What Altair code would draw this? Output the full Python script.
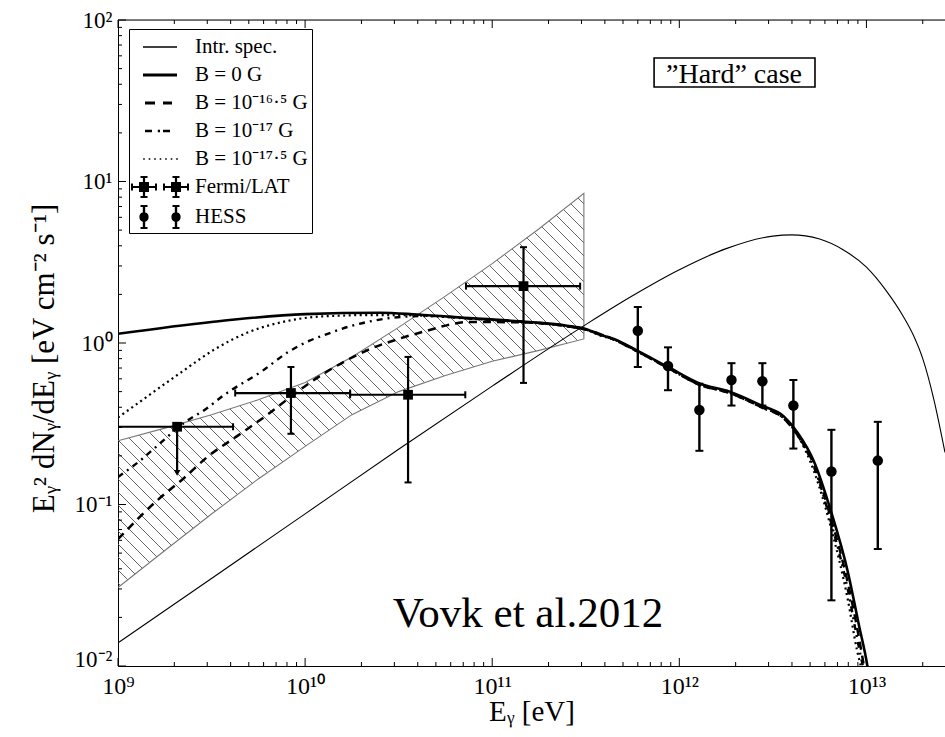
import altair as alt
import numpy as np
import pandas as pd

# ---------------- layout ----------------
W, H = 827, 646
X_DOMAIN = [1e9, 2.63e13]
Y_DOMAIN = [1e-2, 1e2]
FONT = "Liberation Serif"

# ---------------- data ----------------
# Intrinsic spectrum (thin line)
intr_E = [1e9, 3.16e9, 1e10, 3.16e10, 1e11, 3.16e11, 5.62e11, 1e12, 1.78e12, 3.16e12,
          3.98e12, 5.62e12, 7.5e12, 1e13, 1.26e13, 1.58e13, 1.78e13, 2e13, 2.29e13, 2.63e13]
intr_F = [0.0139, 0.0348, 0.0875, 0.220, 0.541, 1.30, 1.96, 2.84, 3.84, 4.59,
          4.67, 4.40, 3.78, 2.95, 2.15, 1.45, 1.12, 0.80, 0.45, 0.21]

# B = 0 G (thick solid)
b0_E = [1e9, 3.16e9, 1e10, 2.51e10, 3.98e10, 7.94e10, 1.585e11, 2.51e11, 3.16e11, 3.8e11,
        4.47e11, 6.03e11, 8.71e11, 1.29e12, 1.86e12, 2.75e12, 3.63e12, 4.27e12, 5.25e12,
        6.46e12, 7.94e12, 9.12e12, 1.012e13, 1.05e13]
b0_F = [1.14, 1.35, 1.51, 1.54, 1.50, 1.42, 1.35, 1.28, 1.22, 1.12,
        1.06, 0.89, 0.71, 0.56, 0.50, 0.41, 0.35, 0.28, 0.184,
        0.091, 0.0386, 0.0179, 0.0100, 0.0075]

# B = 10^-16.5 G (dashed)
b165_E = [1e9, 1.62e9, 2.24e9, 3.02e9, 4.37e9, 6.17e9, 8.51e9, 1.02e10, 1.41e10, 2.14e10,
          3.24e10, 4.47e10, 5.75e10, 7.41e10, 1.55e11, 2.51e11, 3.16e11, 4.47e11, 6.03e11,
          8.71e11, 1.29e12, 1.86e12, 2.75e12, 3.63e12, 4.27e12, 5.25e12, 6.46e12, 7.94e12,
          9.12e12, 9.77e12]
b165_F = [0.061, 0.106, 0.145, 0.198, 0.267, 0.354, 0.471, 0.55, 0.70, 0.90,
          1.07, 1.19, 1.29, 1.35, 1.34, 1.27, 1.21, 1.05, 0.88,
          0.70, 0.55, 0.49, 0.40, 0.34, 0.27, 0.175, 0.082, 0.033,
          0.015, 0.0095]

# B = 10^-17 G (dash-dot)
b17_E = [1e9, 1.35e9, 1.62e9, 2.34e9, 2.95e9, 3.63e9, 5.89e9, 8.13e9, 1.05e10, 1.32e10,
         1.74e10, 2.29e10, 3.24e10, 4.68e10, 7.94e10, 1.585e11, 2.51e11, 3.16e11, 4.47e11,
         6.03e11, 8.71e11, 1.29e12, 1.86e12, 2.75e12, 3.63e12, 4.27e12, 5.25e12, 6.46e12,
         7.94e12, 9.12e12, 9.66e12]
b17_F = [0.148, 0.192, 0.231, 0.33, 0.39, 0.47, 0.67, 0.88, 1.03, 1.14,
         1.27, 1.37, 1.45, 1.47, 1.41, 1.34, 1.27, 1.21, 1.05,
         0.88, 0.70, 0.55, 0.49, 0.40, 0.34, 0.27, 0.17, 0.078,
         0.030, 0.013, 0.0095]

# B = 10^-17.5 G (dotted)
b175_E = [1e9, 1.45e9, 2.19e9, 3.31e9, 5.01e9, 7.59e9, 1.12e10, 1.41e10, 2.14e10, 3.16e10,
          3.98e10, 7.94e10, 1.585e11, 2.51e11, 3.16e11, 3.8e11, 4.47e11, 6.03e11, 8.71e11,
          1.29e12, 1.86e12, 2.75e12, 3.63e12, 4.27e12, 5.25e12, 6.46e12, 7.94e12, 8.91e12,
          9.44e12]
b175_F = [0.345, 0.471, 0.662, 0.918, 1.17, 1.35, 1.45, 1.47, 1.49, 1.49,
          1.48, 1.41, 1.34, 1.27, 1.21, 1.11, 1.05, 0.88, 0.70,
          0.55, 0.49, 0.40, 0.34, 0.27, 0.16, 0.072, 0.026, 0.0125,
          0.0095]

# Fermi/LAT butterfly (hatched band)
bf_E = [1e9, 1.78e9, 3.16e9, 5.62e9, 1e10, 1.78e10, 3.16e10, 5.62e10, 1e11, 1.78e11, 3.09e11]
bf_hi = [0.248, 0.297, 0.360, 0.445, 0.569, 0.82, 1.25, 1.95, 3.1, 5.1, 8.45]
bf_lo = [0.0306, 0.0519, 0.0873, 0.144, 0.229, 0.36, 0.50, 0.63, 0.77, 0.90, 1.06]

# Fermi/LAT points
fermi_E = [2.07e9, 8.4e9, 3.55e10, 1.47e11]
fermi_F = [0.303, 0.49, 0.478, 2.25]
fermi_xlo = [1e9, 4.23e9, 1.74e10, 7.24e10]
fermi_xhi = [4.12e9, 1.74e10, 7.18e10, 2.95e11]
fermi_ylo = [None, 0.274, 0.137, 0.566]
fermi_yhi = [None, 0.71, 0.82, 3.92]
fermi_ul_E = [2.07e9]       # upper limit
fermi_ul_to = [0.157]

# HESS points
hess_E = [6.0e11, 8.7e11, 1.28e12, 1.90e12, 2.78e12, 4.07e12, 6.5e12, 1.15e13]
hess_F = [1.19, 0.72, 0.385, 0.59, 0.58, 0.41, 0.160, 0.187]
hess_lo = [0.71, 0.51, 0.215, 0.41, 0.41, 0.222, 0.0255, 0.053]
hess_hi = [1.67, 0.94, 0.56, 0.75, 0.75, 0.59, 0.29, 0.325]

# axes ticks
x_tick_vals = [1e9, 1e10, 1e11, 1e12, 1e13]
x_tick_labels = ["10⁹", "10¹⁰", "10¹¹", "10¹²", "10¹³"]
y_tick_vals = [1e-2, 1e-1, 1e0, 1e1, 1e2]
y_tick_labels = ["10⁻²", "10⁻¹", "10⁰", "10¹", "10²"]
x_minor = [k * 10.0 ** d for d in range(9, 14) for k in range(2, 10) if k * 10.0 ** d <= X_DOMAIN[1]]
y_minor = [k * 10.0 ** d for d in range(-2, 2) for k in range(2, 10)]

legend_names = ["Intr. spec.", "B = 0 G", "B = 10⁻¹⁶·⁵ G", "B = 10⁻¹⁷ G",
                "B = 10⁻¹⁷·⁵ G", "Fermi/LAT", "HESS"]

# ---------------- scales / axes ----------------
def label_expr(vals, labels):
    parts = [f"abs(log(datum.value)/LN10 - ({int(round(np.log10(v)))})) < 0.001 ? '{l}'"
             for v, l in zip(vals, labels)]
    return " : ".join(parts) + " : ''"

xs = alt.Scale(type="log", domain=X_DOMAIN, nice=False)
ys = alt.Scale(type="log", domain=Y_DOMAIN, nice=False)

x_axis = alt.Axis(values=x_tick_vals, labelExpr=label_expr(x_tick_vals, x_tick_labels),
                  ticks=False, grid=False, domainColor="black", domainWidth=1,
                  labelFont=FONT, labelFontSize=24, labelColor="black", labelPadding=8,
                  labelFlush=False, labelOverlap=False,
                  title="Eᵧ [eV]", titleFont=FONT, titleFontSize=29, titleFontWeight="normal",
                  titleColor="black", titleY=54, titleBaseline="alphabetic")
y_axis = alt.Axis(values=y_tick_vals, labelExpr=label_expr(y_tick_vals, y_tick_labels),
                  ticks=False, grid=False, domainColor="black", domainWidth=1,
                  labelFont=FONT, labelFontSize=23, labelColor="black", labelPadding=6,
                  labelBaseline={"condition": {"test": "datum.value < 0.05", "value": "alphabetic"},
                                 "value": "middle"},
                  labelFlush=False, labelOverlap=False,
                  title="Eᵧ² dNᵧ/dEᵧ [eV cm⁻² s⁻¹]", titleFont=FONT, titleFontSize=31,
                  titleFontWeight="normal", titleColor="black",
                  titleX=-65, titleY=338, titleAngle=270, titleAlign="center",
                  titleBaseline="alphabetic")

X = lambda f="E": alt.X(f"{f}:Q", scale=xs, axis=x_axis)
Y = lambda f="F": alt.Y(f"{f}:Q", scale=ys, axis=y_axis)


def line_layer(E, F, **mk):
    df = pd.DataFrame({"E": E, "F": F, "i": range(len(E))})
    return alt.Chart(df).mark_line(clip=True, color="black", interpolate="monotone", **mk).encode(
        x=X(), y=Y(), order="i:Q")

# ---------------- butterfly: outline + hatch ----------------
PXD_X = W / (np.log10(X_DOMAIN[1]) - np.log10(X_DOMAIN[0]))
PXD_Y = H / (np.log10(Y_DOMAIN[1]) - np.log10(Y_DOMAIN[0]))

def to_px(E, F):
    return (np.log10(E) - np.log10(X_DOMAIN[0])) * PXD_X, (np.log10(Y_DOMAIN[1]) - np.log10(F)) * PXD_Y

def from_px(x, y):
    return 10 ** (np.log10(X_DOMAIN[0]) + x / PXD_X), 10 ** (np.log10(Y_DOMAIN[1]) - y / PXD_Y)

ux, uy = to_px(np.array(bf_E), np.array(bf_hi))
lx, ly = to_px(np.array(bf_E), np.array(bf_lo))
grid = np.linspace(ux[0], ux[-1], 6000)
up = np.interp(grid, ux, uy)
lo = np.interp(grid, lx, ly)
HATCH = 13.0
segs = []
for c in np.arange(-1200, 1200, HATCH):
    yy = grid - c
    m = (yy >= up) & (yy <= lo)
    if m.sum() > 1:
        idx = np.where(m)[0]
        e1, f1 = from_px(grid[idx[0]], yy[idx[0]])
        e2, f2 = from_px(grid[idx[-1]], yy[idx[-1]])
        segs.append((e1, f1, e2, f2))
hatch_df = pd.DataFrame(segs, columns=["E", "F", "E2", "F2"])
hatch = alt.Chart(hatch_df).mark_rule(color="#555555", strokeWidth=0.9, clip=True).encode(
    x=X(), y=Y(), x2="E2:Q", y2="F2:Q")

outline_df = pd.DataFrame({
    "E": bf_E + bf_E[::-1],
    "F": bf_hi + bf_lo[::-1],
})
outline_df["i"] = range(len(outline_df))
outline = alt.Chart(outline_df).mark_line(color="#777777", strokeWidth=1.1, clip=True).encode(
    x=X(), y=Y(), order="i:Q")

# ---------------- model lines ----------------
l_intr = line_layer(intr_E, intr_F, strokeWidth=1.1)
l_175 = line_layer(b175_E, b175_F, strokeWidth=2.2, strokeDash=[2, 3.5])
l_17 = line_layer(b17_E, b17_F, strokeWidth=2.4, strokeDash=[6, 5, 2, 5])
l_165 = line_layer(b165_E, b165_F, strokeWidth=2.5, strokeDash=[8, 6])
l_b0 = line_layer(b0_E, b0_F, strokeWidth=2.6)

# ---------------- Fermi/LAT points ----------------
fermi_df = pd.DataFrame({"E": fermi_E, "F": fermi_F, "xlo": fermi_xlo, "xhi": fermi_xhi,
                         "ylo": fermi_ylo, "yhi": fermi_yhi})
fermi_v = fermi_df.dropna()
f_hbar = alt.Chart(fermi_df).mark_rule(color="black", strokeWidth=2.2, clip=True).encode(
    x=X("xlo"), x2="xhi:Q", y=Y())
f_vbar = alt.Chart(fermi_v).mark_rule(color="black", strokeWidth=2.2, clip=True).encode(
    x=X(), y=Y("ylo"), y2="yhi:Q")
cap_h = pd.DataFrame({"E": [e for e in fermi_xlo + fermi_xhi],
                      "F": fermi_F + fermi_F})
cap_h = cap_h[cap_h["E"] > X_DOMAIN[0]]
f_caph = alt.Chart(cap_h).mark_tick(orient="vertical", size=7, thickness=2, color="black",
                                    opacity=1, clip=True).encode(x=X(), y=Y())
cap_v = pd.DataFrame({"E": list(fermi_v["E"]) * 2,
                      "F": list(fermi_v["ylo"]) + list(fermi_v["yhi"])})
f_capv = alt.Chart(cap_v).mark_tick(orient="horizontal", size=7, thickness=2, color="black",
                                    opacity=1, clip=True).encode(x=X(), y=Y())
ul_df = pd.DataFrame({"E": fermi_ul_E, "F": [fermi_F[0]], "F2": fermi_ul_to})
f_ul = alt.Chart(ul_df).mark_rule(color="black", strokeWidth=2.2).encode(x=X(), y=Y(), y2="F2:Q")
f_ulhead = alt.Chart(ul_df).mark_point(shape="triangle-down", filled=True, size=45, color="black",
                                       opacity=1).encode(x=X(), y=Y("F2"))
f_pts = alt.Chart(fermi_df).mark_square(size=95, color="black", opacity=1).encode(x=X(), y=Y())

# ---------------- HESS points ----------------
hess_df = pd.DataFrame({"E": hess_E, "F": hess_F, "lo": hess_lo, "hi": hess_hi})
h_bar = alt.Chart(hess_df).mark_rule(color="black", strokeWidth=2.4, clip=True).encode(
    x=X(), y=Y("lo"), y2="hi:Q")
hcap = pd.DataFrame({"E": hess_E * 2, "F": hess_lo + hess_hi})
h_cap = alt.Chart(hcap).mark_tick(orient="horizontal", size=8, thickness=2, color="black",
                                  opacity=1, clip=True).encode(x=X(), y=Y())
h_pts = alt.Chart(hess_df).mark_circle(size=110, color="black", opacity=1).encode(x=X(), y=Y())

# ---------------- annotations ----------------
vovk = alt.Chart(pd.DataFrame({"E": [1.553e11], "F": [0.01746], "t": ["Vovk et al.2012"]})).mark_text(
    font=FONT, fontSize=43, color="black", align="center", baseline="alphabetic").encode(
    x=X(), y=Y(), text="t:N")
hard_box = alt.Chart(pd.DataFrame({"E": [7.33e11], "E2": [5.31e12], "F": [58.2], "F2": [38.5]})).mark_rect(
    fill="white", stroke="black", strokeWidth=1.6).encode(x=X(), x2="E2:Q", y=Y(), y2="F2:Q")
hard_txt = alt.Chart(pd.DataFrame({"E": [1.96e12], "F": [40.7], "t": ["”Hard”  case"]})).mark_text(
    font=FONT, fontSize=28, color="black", align="center", baseline="alphabetic").encode(
    x=X(), y=Y(), text="t:N")

# ---------------- legend (native legend, custom symbol paths) ----------------
U = 14.0          # px per symbol unit (symbol size 28 px)
S = 13.0 / U      # horizontal shift of sample centre

def rect(x0, x1, h):
    x0, x1 = x0 / U + S, x1 / U + S
    return f"M{x0:.3f},{-h / U:.3f}H{x1:.3f}V{h / U:.3f}H{x0:.3f}Z"

def rect_xy(cx, cy, hw, hh):
    x0, x1 = (cx - hw) / U + S, (cx + hw) / U + S
    y0, y1 = (cy - hh) / U, (cy + hh) / U
    return f"M{x0:.3f},{y0:.3f}H{x1:.3f}V{y1:.3f}H{x0:.3f}Z"

def circ(cx, r):
    c, rr = cx / U + S, r / U
    return f"M{c - rr:.3f},0A{rr:.3f},{rr:.3f} 0 1,1 {c + rr:.3f},0A{rr:.3f},{rr:.3f} 0 1,1 {c - rr:.3f},0Z"

def fermi_sym(cx):
    return "".join([rect_xy(cx, 0, 12, 1.1), rect_xy(cx, 0, 1.1, 10),
                    rect_xy(cx - 12, 0, 1.0, 3.5), rect_xy(cx + 12, 0, 1.0, 3.5),
                    rect_xy(cx, -10, 3.5, 1.0), rect_xy(cx, 10, 3.5, 1.0),
                    rect_xy(cx, 0, 5, 5)])

def hess_sym(cx):
    return "".join([rect_xy(cx, 0, 1.2, 11), rect_xy(cx, -11, 3.5, 1.0),
                    rect_xy(cx, 11, 3.5, 1.0), circ(cx, 4.6)])

legend_paths = [
    rect(-17, 17, 0.75),
    rect(-17, 17, 1.4),
    rect(-15, -5, 1.4) + rect(3, 12, 1.4),
    rect(-15, -8, 1.3) + rect(-2.2, 0, 1.3) + rect(3, 10, 1.3),
    "".join(rect(p - 0.8, p + 0.8, 0.8) for p in [-16, -10.5, -5, 0.5, 6, 11.5, 17]),
    fermi_sym(-16) + fermi_sym(16),
    hess_sym(-16) + hess_sym(16),
]

leg_df = pd.DataFrame({"series": legend_names, "E": [1e6] * 7, "F": [1e-4] * 7})
legend_layer = alt.Chart(leg_df).mark_point(filled=True, clip=True, size=784, color="black",
                                            opacity=1, strokeWidth=0).encode(
    x=X(), y=Y(),
    shape=alt.Shape("series:N",
                    scale=alt.Scale(domain=legend_names, range=legend_paths),
                    legend=alt.Legend(orient="none", legendX=11, legendY=9, title=None,
                                      padding=4, strokeColor="black", fillColor="white",
                                      rowPadding=4, symbolSize=784, symbolStrokeWidth=0,
                                      symbolFillColor="black", symbolOpacity=1,
                                      labelFont=FONT, labelFontSize=21, labelColor="black",
                                      labelOffset=34, labelLimit=400, cornerRadius=0)))

# ---------------- ticks (inward) & top frame ----------------
def xticks(vals, length, top):
    df = pd.DataFrame({"E": vals})
    if top:
        yv, y2v = alt.value(0), alt.value(length)
    else:
        yv, y2v = alt.value(H), alt.value(H - length)
    return alt.Chart(df).mark_rule(color="black", strokeWidth=1).encode(x=X(), y=yv, y2=y2v)

def yticks(vals, length):
    df = pd.DataFrame({"F": vals})
    return alt.Chart(df).mark_rule(color="black", strokeWidth=1).encode(
        y=Y(), x=alt.value(0), x2=alt.value(length))

top_frame = alt.Chart(pd.DataFrame({"E": [X_DOMAIN[0]], "E2": [X_DOMAIN[1]], "F": [Y_DOMAIN[1]]})).mark_rule(
    color="black", strokeWidth=1).encode(x=X(), x2="E2:Q", y=Y())

chart = alt.layer(
    hatch, outline,
    l_intr, l_175, l_17, l_165, l_b0,
    f_hbar, f_vbar, f_caph, f_capv, f_ul, f_ulhead, f_pts,
    h_bar, h_cap, h_pts,
    vovk, hard_box, hard_txt,
    xticks(x_tick_vals, 8, False), xticks(x_minor, 4, False),
    xticks(x_tick_vals, 8, True), xticks(x_minor, 4, True),
    yticks(y_tick_vals, 8), yticks(y_minor, 4),
    top_frame,
    legend_layer,
).properties(
    width=W, height=H,
    padding={"left": 118, "top": 20, "right": 0, "bottom": 71},
    autosize=alt.AutoSizeParams(type="none"),
).configure_view(stroke=None).configure(background="white")

chart.save("out.html", embed_options={"renderer": "svg", "actions": False})
